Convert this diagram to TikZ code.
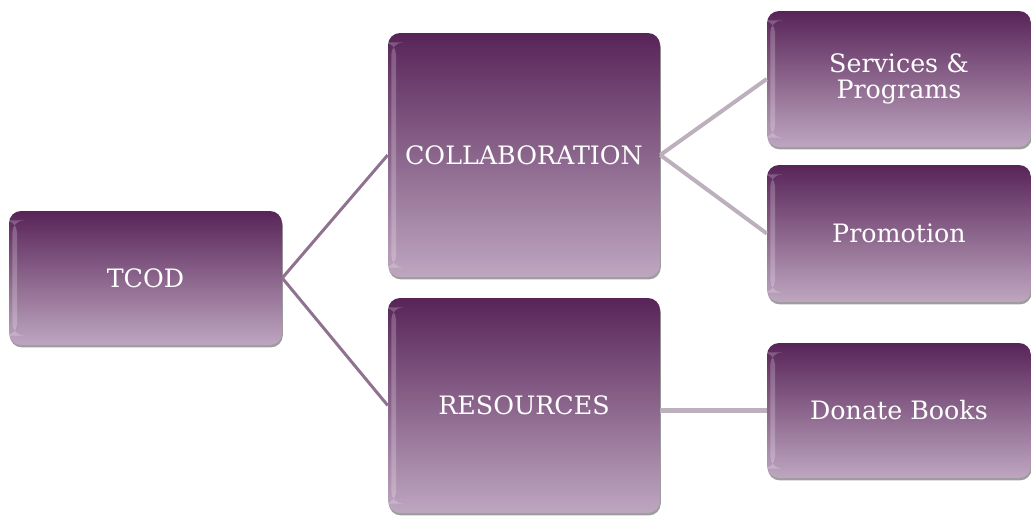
\documentclass[tikz,border=0pt]{standalone}
\usepackage{fontspec}
\setmainfont{DejaVu Serif}
\usetikzlibrary{shadows}

\definecolor{boxTop}{RGB}{88,36,88}
\definecolor{boxBot}{RGB}{190,166,192}
\definecolor{lineDark}{RGB}{143,114,144}
\definecolor{lineLight}{RGB}{188,176,189}

\begin{document}
\begin{tikzpicture}[x=0.75pt,y=0.75pt,yscale=-1,xscale=1,
  box/.style={rectangle, rounded corners=9pt, top color=boxTop, bottom color=boxBot,
    text=white, align=center, inner sep=0pt, font=\fontsize{19}{19}\selectfont,
    drop shadow={shadow xshift=0.6pt, shadow yshift=-1.8pt, opacity=0.55, fill=black!70},
    path picture={\fill [white, opacity=0.22]
      ([xshift=2.5pt,yshift=-7pt]path picture bounding box.north west) rectangle
      ([xshift=6pt,yshift=7pt]path picture bounding box.south west);}},
  linkDark/.style={draw=lineDark, line width=2.25pt},
  linkLight/.style={draw=lineLight, line width=3pt}]
\useasboundingbox (0,0) rectangle (1031,518);

% Boxes
\node [box, minimum width=204.75pt, minimum height=100.5pt] (tcod) at (145.5,278) {TCOD};
\node [box, minimum width=204pt, minimum height=183pt] (collab) at (524,155) {COLLABORATION};
\node [box, minimum width=204pt, minimum height=161.25pt] (res) at (524,405.5) {RESOURCES};
\node [box, minimum width=198pt, minimum height=102pt] (serv) at (899,79) {Services \&\\Programs};
\node [box, minimum width=198pt, minimum height=102.75pt] (promo) at (899,233.5) {Promotion};
\node [box, minimum width=198pt, minimum height=101.25pt] (donate) at (899,410.5) {Donate Books};

% Links
\draw [linkDark] (tcod.east) -- (collab.west);
\draw [linkDark] (tcod.east) -- (res.west);
\draw [linkLight] (collab.east) -- (serv.west);
\draw [linkLight] (collab.east) -- (promo.west);
\draw [linkLight, line width=3.75pt] (donate.west -| res.east) -- (donate.west);

\end{tikzpicture}
\end{document}
